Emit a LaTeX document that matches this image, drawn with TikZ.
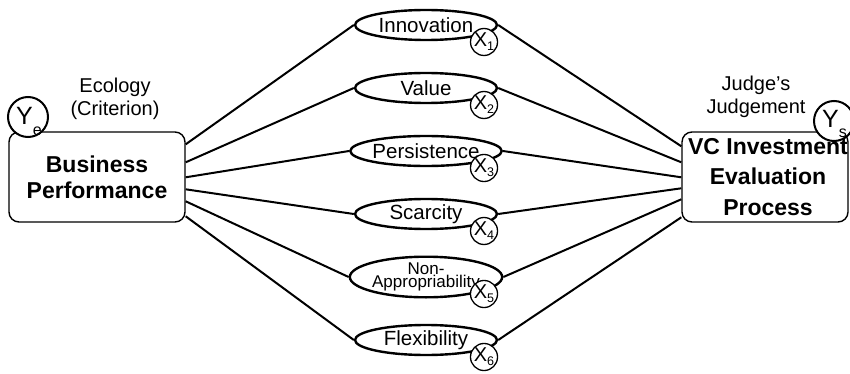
\documentclass[tikz,border=0pt]{standalone}
\usepackage{fontspec}
\setmainfont{Liberation Sans}
\usetikzlibrary{shapes.geometric,calc}
\begin{document}
\begin{tikzpicture}[x=1pt,y=-1pt,
  trait/.style={ellipse, draw, fill=white, line width=2.4pt, minimum width=142pt, minimum height=30pt, inner sep=0pt, font=\fontsize{20.5}{22}\selectfont},
  xcirc/.style={circle, draw, fill=white, line width=1.3pt, minimum size=27pt, inner sep=0pt, font=\fontsize{20}{20}\selectfont},
  bigbox/.style={draw, rounded corners=10pt, line width=1.4pt, align=center, inner sep=0pt},
  ycirc/.style={circle, draw, fill=white, line width=2pt, minimum size=40pt, inner sep=0pt},
  ytext/.style={inner sep=0pt, font=\fontsize{25}{25}\selectfont},
  lab/.style={align=center, font=\fontsize{20}{23}\selectfont, inner sep=0pt},
  link/.style={line width=2pt}]
\useasboundingbox (0,0) rectangle (850,374);
% boxes
\node[bigbox, minimum width=176pt, minimum height=90pt, font=\fontsize{23}{26}\bfseries\selectfont] (bp) at (97,177) {Business\\Performance};
\node[bigbox, minimum width=166pt, minimum height=90pt, font=\fontsize{23}{30.5}\bfseries\selectfont] (vc) at (765,177) {};
\node[inner sep=0pt, align=center, font=\fontsize{23}{30.5}\bfseries\selectfont] (vct) at (768,177) {VC Investment\\Evaluation\\Process};
% attachment points
\foreach \i/\d in {1/13,2/31,3/46,4/58,5/70,6/85}{
  \coordinate (l\i) at ($(bp.north east)+(0,\d)$);
}
\foreach \i/\d in {1/15,2/31,3/46,4/57,5/68,6/86}{
  \coordinate (r\i) at ($(vc.north west)+(0,\d)$);
}
% traits
\node[trait] (t1) at (426,25) {Innovation};
\node[trait] (t2) at (426,88) {Value};
\node[trait] (t3) at (426,151) {Persistence};
\node[trait] (t4) at (426,214) {Scarcity};
\node[trait, align=center, font=\fontsize{17}{10}\selectfont] (t5) at (426,277) {Non-\\Appropriability};
\node[trait] (t6) at (426,340) {Flexibility};
% links
\foreach \i in {1,...,6}{
  \draw[link] (l\i) -- (t\i.west);
  \draw[link] (t\i.east) -- (r\i);
}
% X circles
\foreach \i in {1,...,6}{
  \node[xcirc] (x\i) at ($(t\i.center)+(58,17)$) {X\raisebox{-4pt}{\fontsize{12.5}{12.5}\selectfont\i}};
}
% Y circles
\node[ycirc] (ye) at (28,117) {};
\node[ytext, anchor=base west] (yet) at (16,125) {Y\raisebox{-10pt}{\fontsize{16}{16}\selectfont e}};
\node[ycirc] (ys) at (834,121) {};
\node[ytext, anchor=base west] (yst) at (822,128) {Y\raisebox{-10pt}{\fontsize{16}{16}\selectfont s}};
% labels
\node[lab] (eco) at (115,98.5) {Ecology\\(Criterion)};
\node[lab] (jud) at (756,96.5) {Judge’s\\Judgement};
\end{tikzpicture}
\end{document}
